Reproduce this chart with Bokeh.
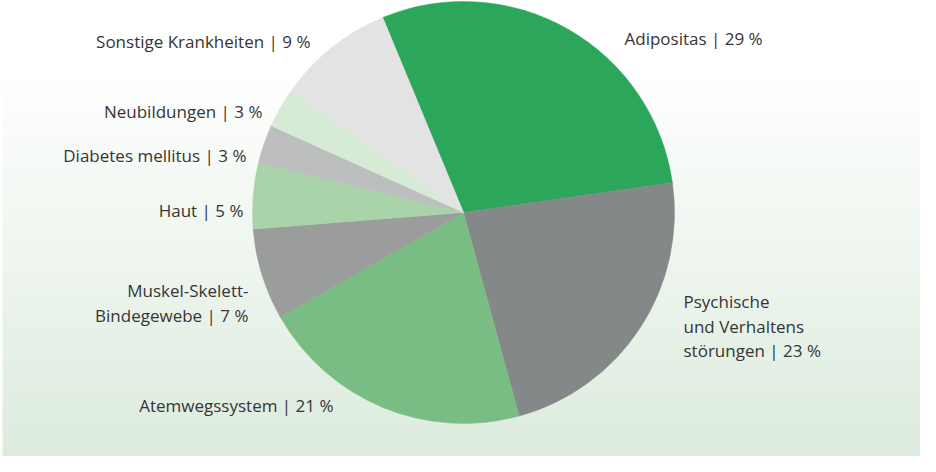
import numpy as np
from bokeh.plotting import figure
from bokeh.models import ColumnDataSource, Range1d
from bokeh.core.properties import value
from bokeh.embed import file_html
from bokeh.resources import INLINE

# ---- data ----
categories = ["Adipositas", "Psychische und Verhaltensstörungen", "Atemwegssystem",
              "Muskel-Skelett-Bindegewebe", "Haut", "Diabetes mellitus",
              "Neubildungen", "Sonstige Krankheiten"]
shares = [29, 23, 21, 7, 5, 3, 3, 9]
label_texts = ["Adipositas | 29 %",
               "Psychische\nund Verhaltens\nstörungen | 23 %",
               "Atemwegssystem | 21 %",
               "Muskel-Skelett-\nBindegewebe | 7 %",
               "Haut | 5 %",
               "Diabetes mellitus | 3 %",
               "Neubildungen | 3 %",
               "Sonstige Krankheiten | 9 %"]

# ---- style / layout ----
colors = ["#2ca65a", "#858888", "#7abd84", "#9b9c9c", "#a9d4a9", "#bdbebe", "#d6ebd6", "#e3e3e3"]
W, H = 920, 456
cx, cy, R = 463, 244, 211
start_deg = 112.5
# label anchors (x, y of first line) and alignment
label_pos = [(624, 418, "left"), (683, 155, "left"), (333, 51, "right"),
             (248, 166, "right"), (243, 246, "right"), (246, 301, "right"),
             (262, 345, "right"), (310, 415, "right")]

p = figure(width=W, height=H, output_backend="svg", toolbar_location=None,
           x_range=Range1d(0, W), y_range=Range1d(0, H), min_border=0)
p.axis.visible = False
p.grid.visible = False
p.outline_line_color = None
p.background_fill_color = "white"
p.border_fill_color = "white"

# background gradient (white top -> pale green bottom)
n = 120
edges = np.linspace(0, H, n + 1)
cols = []
for i in range(n):
    t = (edges[i] + edges[i + 1]) / 2 / H  # 0 bottom, 1 top
    f = min(1.0, max(0.0, t / 0.85))
    r = int(round(220 + (255 - 220) * f))
    g = int(round(235 + (255 - 235) * f))
    b = int(round(221 + (255 - 221) * f))
    cols.append("#%02x%02x%02x" % (r, g, b))
p.quad(left=2, right=W, bottom=edges[:-1], top=edges[1:] + 0.5, fill_color=cols, line_color=None)

# pie
frac = np.array(shares, dtype=float) / sum(shares)
cum = np.concatenate([[0], np.cumsum(frac)])
starts = np.radians(start_deg - cum[:-1] * 360)
ends = np.radians(start_deg - cum[1:] * 360)
src = ColumnDataSource(dict(cat=categories, start=starts, end=ends, color=colors))
p.wedge(x=cx, y=cy, radius=R, start_angle="start", end_angle="end", direction="clock",
        fill_color="color", line_color="color", line_width=0.5, source=src)

# labels
for txt, (lx, ly, al) in zip(label_texts, label_pos):
    for k, line in enumerate(txt.split("\n")):
        p.text(x=[lx], y=[ly - k * 24.5], text=[line], text_align=al, text_baseline="middle",
               text_font=value("Open Sans"), text_font_size="17px", text_color="#353535")

open("out.html", "w").write(file_html(p, INLINE))
